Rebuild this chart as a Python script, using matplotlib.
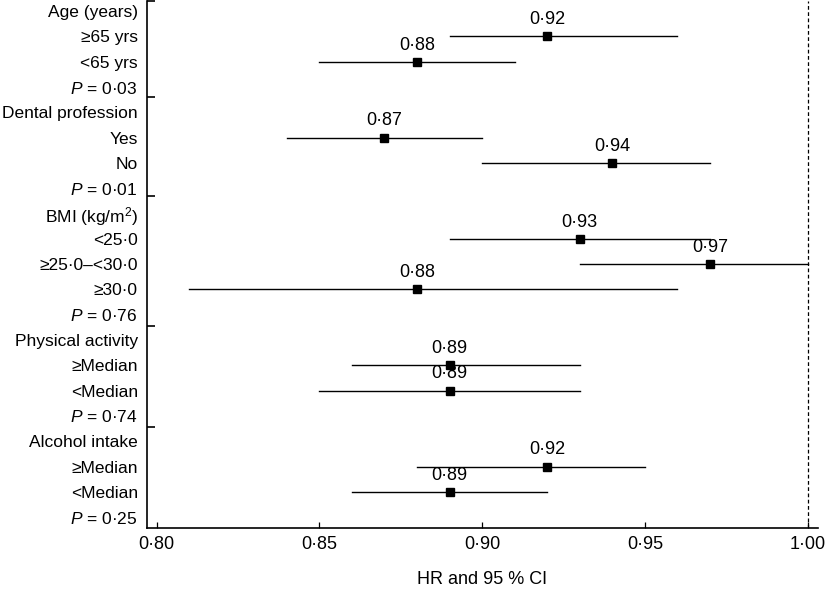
import matplotlib
matplotlib.use("Agg")
import matplotlib.pyplot as plt
import numpy as np

plt.rcParams['font.family'] = ['Liberation Sans', 'DejaVu Sans']
plt.rcParams['mathtext.fontset'] = 'custom'
plt.rcParams['mathtext.rm'] = 'Liberation Sans'
plt.rcParams['mathtext.it'] = 'Liberation Sans:italic'

# row labels, top to bottom
row_labels = ["Age (years)", "\u226565 yrs", "<65 yrs", "$\\it{P}$ = 0\u00b703",
              "Dental profession", "Yes", "No", "$\\it{P}$ = 0\u00b701",
              "BMI (kg/m$^2$)", "<25\u00b70", "\u226525\u00b70\u2013<30\u00b70", "\u226530\u00b70", "$\\it{P}$ = 0\u00b776",
              "Physical activity", "\u2265Median", "<Median", "$\\it{P}$ = 0\u00b774",
              "Alcohol intake", "\u2265Median", "<Median", "$\\it{P}$ = 0\u00b725"]

# rows that carry an estimate
est_rows = [1, 2, 5, 6, 9, 10, 11, 14, 15, 18, 19]
hr = [0.92, 0.88, 0.87, 0.94, 0.93, 0.97, 0.88, 0.89, 0.89, 0.92, 0.89]
ci_low = [0.89, 0.85, 0.84, 0.90, 0.89, 0.93, 0.81, 0.86, 0.85, 0.88, 0.86]
ci_high = [0.96, 0.91, 0.90, 0.97, 0.97, 1.00, 0.96, 0.93, 0.93, 0.95, 0.92]

# group separators (between blocks of rows)
separators = [-0.4, 3.4, 7.3, 12.45, 16.45]

xticks = [0.80, 0.85, 0.90, 0.95, 1.00]

fs = 13

fig = plt.figure(figsize=(8.25, 5.91), dpi=100)
ax = fig.add_axes([0.178, 0.1066, 0.8135, 0.8917])

ax.axvline(1.0, color='black', linestyle=(0, (3, 2)), linewidth=0.9)

for r, h, lo, hi in zip(est_rows, hr, ci_low, ci_high):
    ax.plot([lo, hi], [r, r], color='black', linewidth=1.0)
    ax.plot(h, r, marker='s', color='black', markersize=5.5)
    ax.annotate(f"{h:.2f}".replace('.', '\u00b7'), (h, r), xytext=(0, 12),
                textcoords='offset points', ha='center', va='center', fontsize=fs)

ax.set_xlim(0.797, 1.0032)
ax.set_ylim(20.43, -0.4)

ax.set_xticks(xticks)
ax.set_xticklabels([f"{t:.2f}".replace('.', '\u00b7') for t in xticks], fontsize=fs)
ax.tick_params(axis='x', direction='in', length=4, width=0.9, pad=6)

ax.set_yticks(np.arange(len(row_labels)))
ax.set_yticklabels(row_labels, fontsize=12.5)
ax.set_yticks(separators, minor=True)
ax.tick_params(axis='y', which='major', length=0, pad=6.5)
ax.tick_params(axis='y', which='minor', direction='in', length=6, width=1.2)

for s in ['top', 'right']:
    ax.spines[s].set_visible(False)
for s in ['left', 'bottom']:
    ax.spines[s].set_linewidth(1.2)

ax.set_xlabel("HR and 95 % CI", fontsize=fs, labelpad=13)

fig.savefig("out.png", dpi=100)
